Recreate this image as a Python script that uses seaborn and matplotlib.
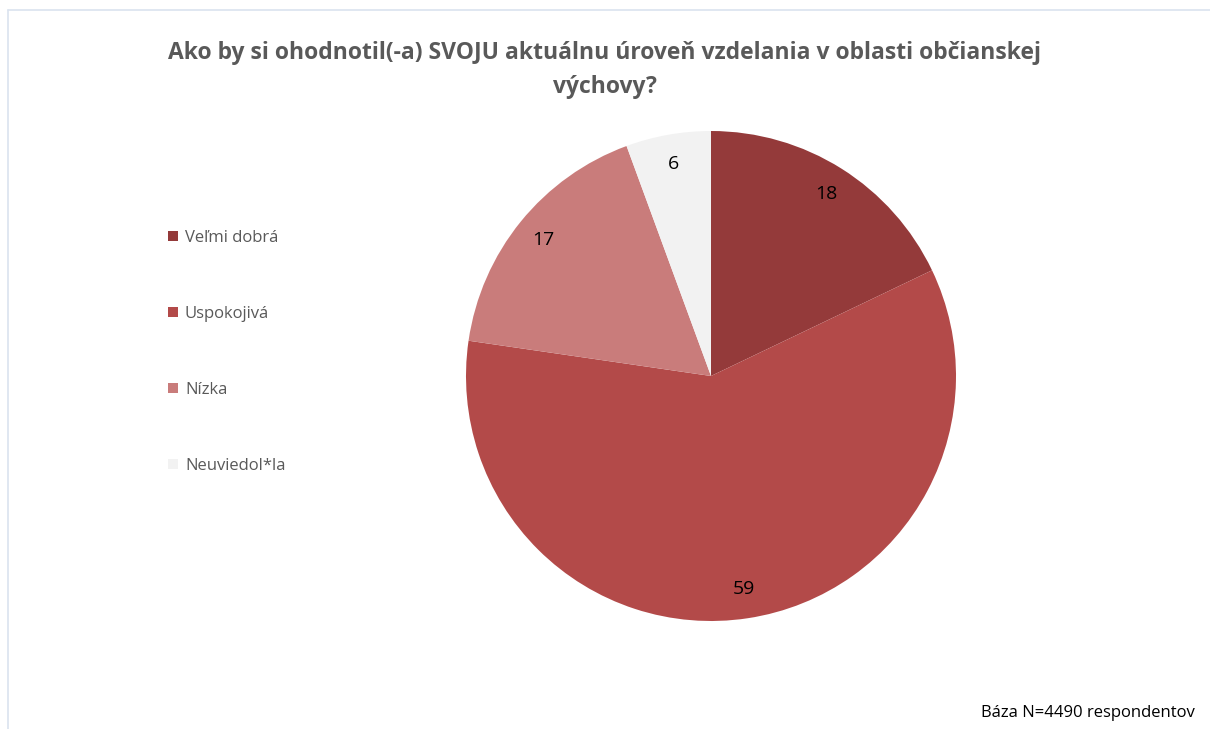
import matplotlib
matplotlib.use("Agg")
import matplotlib.pyplot as plt
from matplotlib.lines import Line2D
from matplotlib.patches import Patch
import seaborn as sns

# data
categories = ["Veľmi dobrá", "Uspokojivá", "Nízka", "Neuviedol*la"]
values = [17.9, 59.4, 17.1, 5.6]
colors = ["#943A3A", "#B34A49", "#C97C7B", "#F2F2F2"]

title = "Ako by si ohodnotil(-a) SVOJU aktuálnu úroveň vzdelania v oblasti občianskej\nvýchovy?"
footer = "Báza N=4490 respondentov"

sns.set_theme(style="white")
plt.rcParams["font.family"] = ["Open Sans", "DejaVu Sans"]

fig = plt.figure(figsize=(12.1, 7.29), dpi=100)
ax = fig.add_axes([466 / 1210, 1 - 621 / 729, 490 / 1210, 490 / 729])

palette = sns.color_palette(colors)
wedges, texts, autotexts = ax.pie(
    values, colors=palette, startangle=90, counterclock=False,
    autopct=lambda p: f"{p:.0f}", pctdistance=0.88, radius=1,
    wedgeprops=dict(linewidth=0, edgecolor="none"),
    textprops=dict(fontsize=14, color="black"),
)
ax.set_xlim(-1, 1)
ax.set_ylim(-1, 1)
ax.set_aspect("auto")
ax.axis("off")

fig.text(0.5, 1 - 70 / 729, title, ha="center", va="center", fontsize=16.5,
         fontweight="bold", color="#595959", linespacing=1.6)

handles = [Patch(facecolor=c, edgecolor="none") for c in palette]
fig.legend(handles, categories, loc="upper left", bbox_to_anchor=(160 / 1210, 1 - 222 / 729),
           frameon=False, fontsize=12, labelcolor="#595959", handlelength=0.55,
           handleheight=0.55, handletextpad=0.45, labelspacing=3.6, borderpad=0)

fig.text(1195 / 1210, 1 - 713 / 729, footer, ha="right", va="center", fontsize=12,
         color="black")

# chart area border
border = "#DAE3EF"
fig.add_artist(Line2D([8 / 1210, 1], [1 - 10 / 729, 1 - 10 / 729], color=border, lw=1.2))
fig.add_artist(Line2D([8 / 1210, 8 / 1210], [0, 1 - 10 / 729], color=border, lw=1.2))

fig.savefig("out.png", dpi=100)
